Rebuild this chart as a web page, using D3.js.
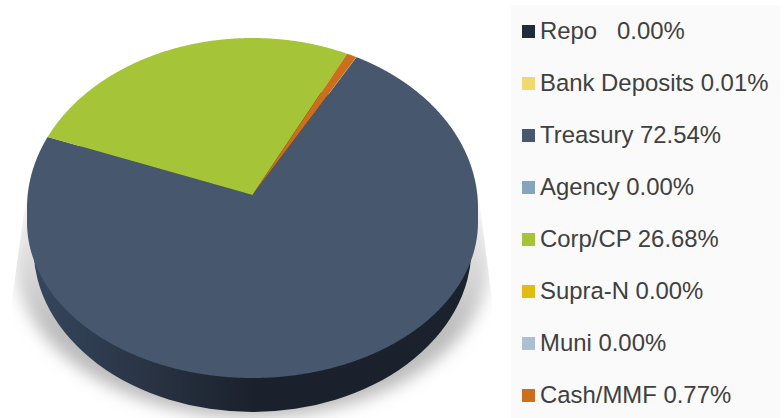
<!DOCTYPE html>
<html><head><meta charset="utf-8">
<script src="https://cdn.jsdelivr.net/npm/d3@7"></script>
<style>html,body{margin:0;padding:0;background:#fff}svg{display:block}</style>
</head><body><div id="c"></div>
<script>
const categories=["Repo","Bank Deposits","Treasury","Agency","Corp/CP","Supra-N","Muni","Cash/MMF"];
const values=[0.00,0.01,72.54,0.00,26.68,0.00,0.00,0.77];
const labels=["Repo   0.00%","Bank Deposits 0.01%","Treasury 72.54%","Agency 0.00%","Corp/CP 26.68%","Supra-N 0.00%","Muni 0.00%","Cash/MMF 0.77%"];
const colors=["#212c3a","#f0da70","#47576e","#85a5bd","#a5c437","#e3bb12","#abc1d3","#cc6f1c"];

const W=784,H=418,cx=252.5,rx=225.5;
const topCy=208,topRy=170,lowCy=222,lowRy=156,apexY=195;
const k=(topCy-apexY)/topRy;
// perspective view of a flat disc: true angle -> screen point
function project(a){
  const x=Math.sin(a),y=Math.cos(a),w=1+k*y;
  const px=x*Math.sqrt(1-k*k)/w,py=(y+k)/w;
  return [cx+rx*px, py>=0?topCy-topRy*py:lowCy-lowRy*py];
}
const svg=d3.select("#c").append("svg").attr("width",W).attr("height",H).attr("viewBox",[0,0,W,H]);
const defs=svg.append("defs");

const blur=defs.append("filter").attr("id","sb").attr("x","-20%").attr("y","-20%").attr("width","140%").attr("height","140%");
blur.append("feGaussianBlur").attr("stdDeviation",8);
defs.append("clipPath").attr("id","sc").append("path")
  .attr("d",d3.line()([[27,190],[12,300],[12,418],[492,418],[492,300],[478,190]])+"Z");
const shade=defs.append("linearGradient").attr("id","shade").attr("gradientUnits","userSpaceOnUse")
  .attr("x1",0).attr("x2",0).attr("y1",190).attr("y2",330);
shade.append("stop").attr("offset",0).attr("stop-color","#f4f4f4");
shade.append("stop").attr("offset",0.6).attr("stop-color","#d6d6d6");
shade.append("stop").attr("offset",1).attr("stop-color","#bcbcbc");

const wall=defs.append("linearGradient").attr("id","wall").attr("gradientUnits","userSpaceOnUse")
  .attr("x1",cx-rx).attr("x2",cx+rx).attr("y1",0).attr("y2",0);
wall.append("stop").attr("offset",0).attr("stop-color","#36475e");
wall.append("stop").attr("offset",0.25).attr("stop-color","#2a3546");
wall.append("stop").attr("offset",0.5).attr("stop-color","#1b212c");
wall.append("stop").attr("offset",1).attr("stop-color","#1a222c");

// shadow
svg.append("g").attr("clip-path","url(#sc)").append("ellipse")
  .attr("cx",cx).attr("cy",258).attr("rx",238).attr("ry",160)
  .attr("fill","url(#shade)").attr("filter","url(#sb)");

// side wall
svg.append("ellipse").attr("cx",cx).attr("cy",248).attr("rx",219).attr("ry",164).attr("fill","url(#wall)");

// top face
const pie=d3.pie().value(d=>d).sort(null).startAngle(29.5*Math.PI/180).endAngle((29.5+360)*Math.PI/180);
const arcs=pie(values).filter(d=>d.value>0);
const line=d3.line();
svg.append("g").selectAll("path").data(arcs).join("path")
  .attr("d",d=>{
    const pts=d3.range(d.startAngle,d.endAngle,0.004).concat([d.endAngle]).map(project);
    return line([[cx,apexY],...pts])+"Z";
  })
  .attr("fill",d=>colors[d.index]);

// legend
svg.append("rect").attr("x",511).attr("y",5).attr("width",269).attr("height",413).attr("fill","#fafafa");
const y=d3.scalePoint().domain(categories).range([31.5,395.5]);
const g=svg.append("g").selectAll("g").data(categories).join("g").attr("transform",d=>`translate(0,${y(d)})`);
g.append("rect").attr("x",522).attr("y",-6.5).attr("width",13).attr("height",13).attr("fill",(d,i)=>colors[i]);
g.append("text").attr("x",540).attr("y",7.5).attr("xml:space","preserve").style("white-space","pre")
  .attr("font-family","Liberation Sans, Arial, sans-serif").attr("font-size",23.9).attr("fill","#404040")
  .text((d,i)=>labels[i]);
</script></body></html>
